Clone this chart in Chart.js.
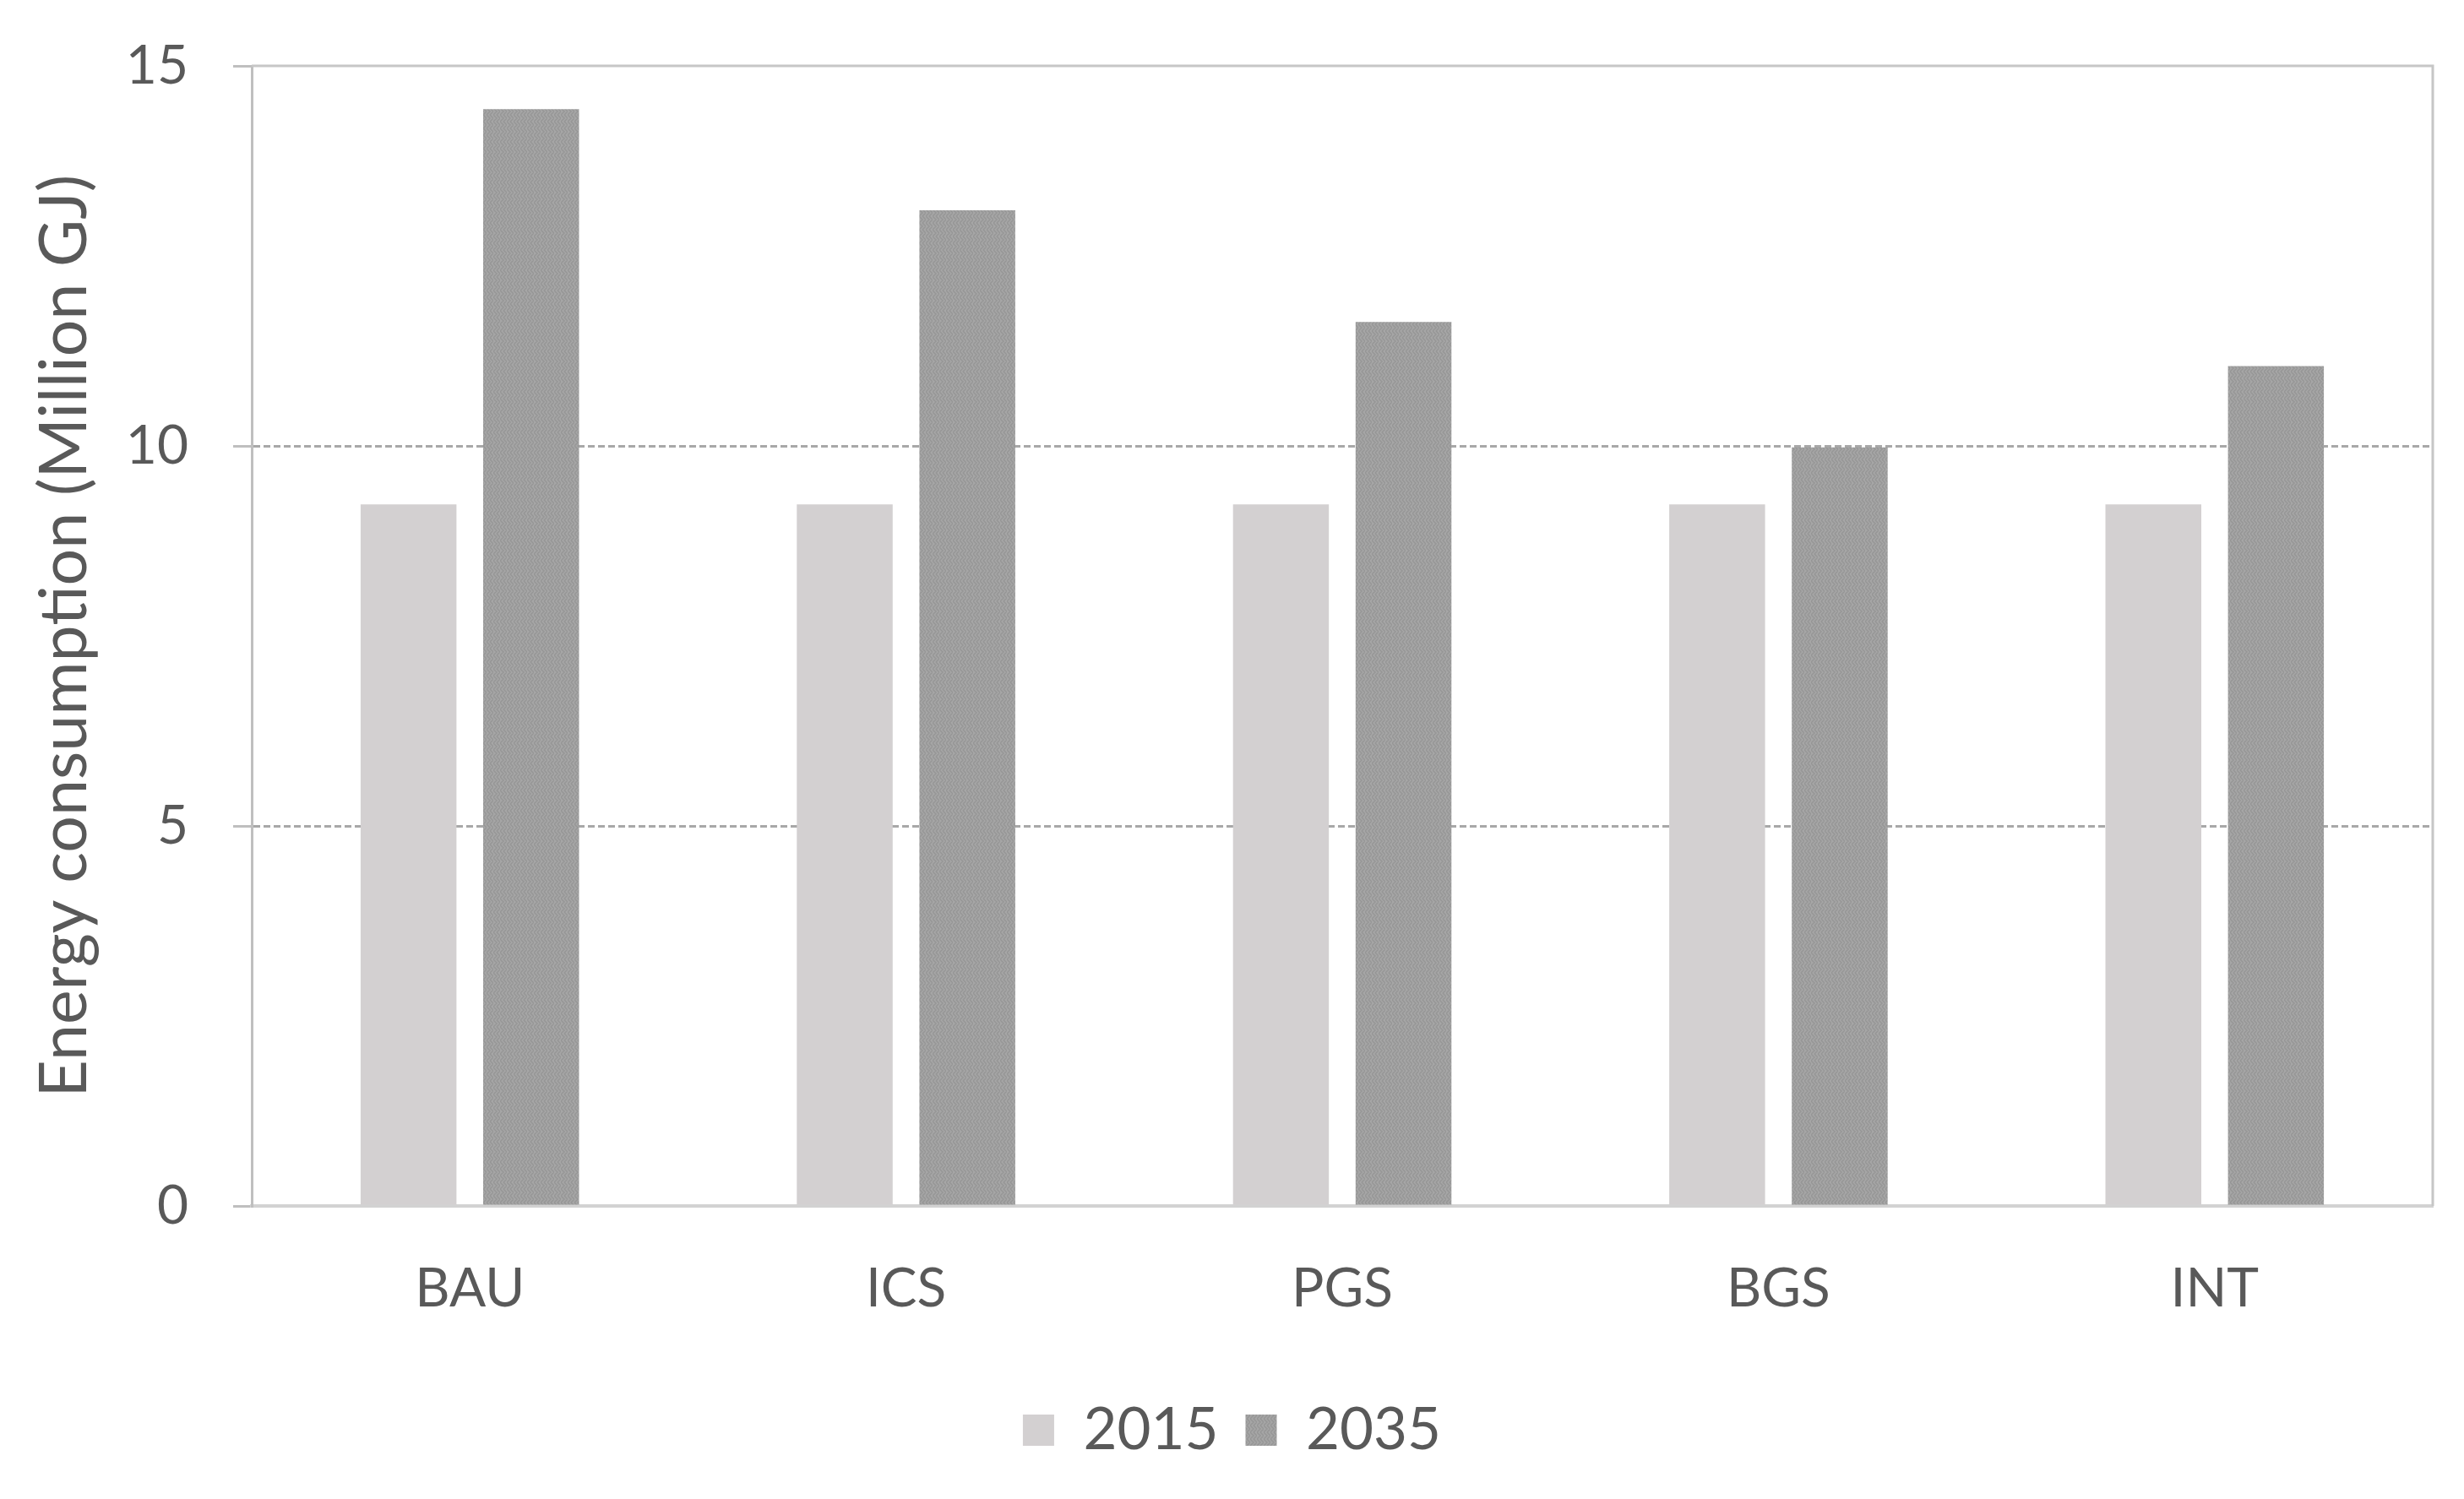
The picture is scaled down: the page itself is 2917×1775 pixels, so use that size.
<!DOCTYPE html>
<html>
<head>
<meta charset="utf-8">
<script src="https://cdn.jsdelivr.net/npm/chart.js@4.4.1/dist/chart.umd.min.js"></script>
<style>
  html, body { margin: 0; padding: 0; background: #fff; }
  #wrap { width: 2917px; height: 1775px; }
</style>
</head>
<body>
<div id="wrap"><canvas id="energyChart" width="2917" height="1775"></canvas></div>
<script>
// scenarios and values (Million GJ)
const scenarios = ["BAU", "ICS", "PGS", "BGS", "INT"];
const values2015 = [9.23, 9.23, 9.23, 9.23, 9.23];
const values2035 = [14.43, 13.1, 11.63, 9.98, 11.05];
const yTicks = [0, 5, 10, 15];

// textured fill for the 2035 bars
function makePattern() {
  const c = document.createElement('canvas');
  c.width = 8; c.height = 8;
  const g = c.getContext('2d');
  g.fillStyle = '#a6a6a6';
  g.fillRect(0, 0, 8, 8);
  g.strokeStyle = '#969696';
  g.lineWidth = 1.5;
  g.beginPath();
  g.moveTo(0, 0); g.lineTo(4, 4); g.lineTo(0, 8);
  g.moveTo(4, 0); g.lineTo(8, 4); g.lineTo(4, 8);
  g.stroke();
  return g.createPattern(c, 'repeat');
}
const pattern2035 = makePattern();

// frame round the plot area (top + right edges)
const framePlugin = {
  id: 'frame',
  afterDatasetsDraw(chart) {
    const { ctx, chartArea: a } = chart;
    ctx.save();
    ctx.strokeStyle = '#c6c6c6';
    ctx.lineWidth = 3;
    ctx.beginPath();
    ctx.moveTo(a.left, a.top);
    ctx.lineTo(a.right, a.top);
    ctx.lineTo(a.right, a.bottom);
    ctx.stroke();
    ctx.restore();
  }
};

const fontFamily = 'Lato, "Open Sans", sans-serif';

var ctx = document.getElementById("energyChart").getContext('2d');
var energyChart = new Chart(ctx, {
  type: 'bar',
  data: {
    labels: scenarios,
    datasets: [{
      label: "2015",
      data: values2015,
      backgroundColor: "#d3d0d1",
      categoryPercentage: 0.562,
      barPercentage: 0.782
    }, {
      label: "2035",
      data: values2035,
      backgroundColor: pattern2035,
      categoryPercentage: 0.562,
      barPercentage: 0.782
    }]
  },
  options: {
    responsive: false,
    animation: false,
    layout: { padding: { top: 78, right: 37, bottom: 37, left: 37 } },
    plugins: {
      legend: {
        position: 'bottom',
        labels: {
          color: '#595959',
          font: { family: fontFamily, size: 69 },
          boxWidth: 37,
          boxHeight: 37,
          padding: 32
        }
      },
      tooltip: { enabled: false }
    },
    scales: {
      x: {
        grid: { display: false, drawTicks: false },
        border: { display: true, color: '#d2d2d2', width: 4 },
        ticks: {
          color: '#595959',
          font: { family: fontFamily, size: 64 },
          padding: 60
        },
        afterFit: function(scale) { scale.height = 199; }
      },
      y: {
        min: 0,
        max: 15,
        afterBuildTicks: function(scale) {
          scale.ticks = yTicks.map(function(v) { return { value: v }; });
        },
        grid: {
          color: function(c) {
            return (c.tick && (c.tick.value === 0 || c.tick.value === 15)) ? 'rgba(0,0,0,0)' : '#a8a8a8';
          },
          lineWidth: 3,
          tickColor: '#bfbfbf',
          tickWidth: 3,
          tickLength: 22
        },
        border: { display: true, color: '#bfbfbf', width: 3, dash: [8, 4] },
        ticks: {
          color: '#595959',
          font: { family: fontFamily, size: 64, lineHeight: 0.3 },
          padding: 53
        },
        title: {
          display: true,
          text: "Energy consumption (Million GJ)",
          color: '#595959',
          font: { family: fontFamily, size: 77, lineHeight: 1.0 },
          padding: { top: 2, bottom: 0 }
        },
        afterFit: function(scale) { scale.width = 261; }
      }
    }
  },
  plugins: [framePlugin]
});
</script>
</body>
</html>
